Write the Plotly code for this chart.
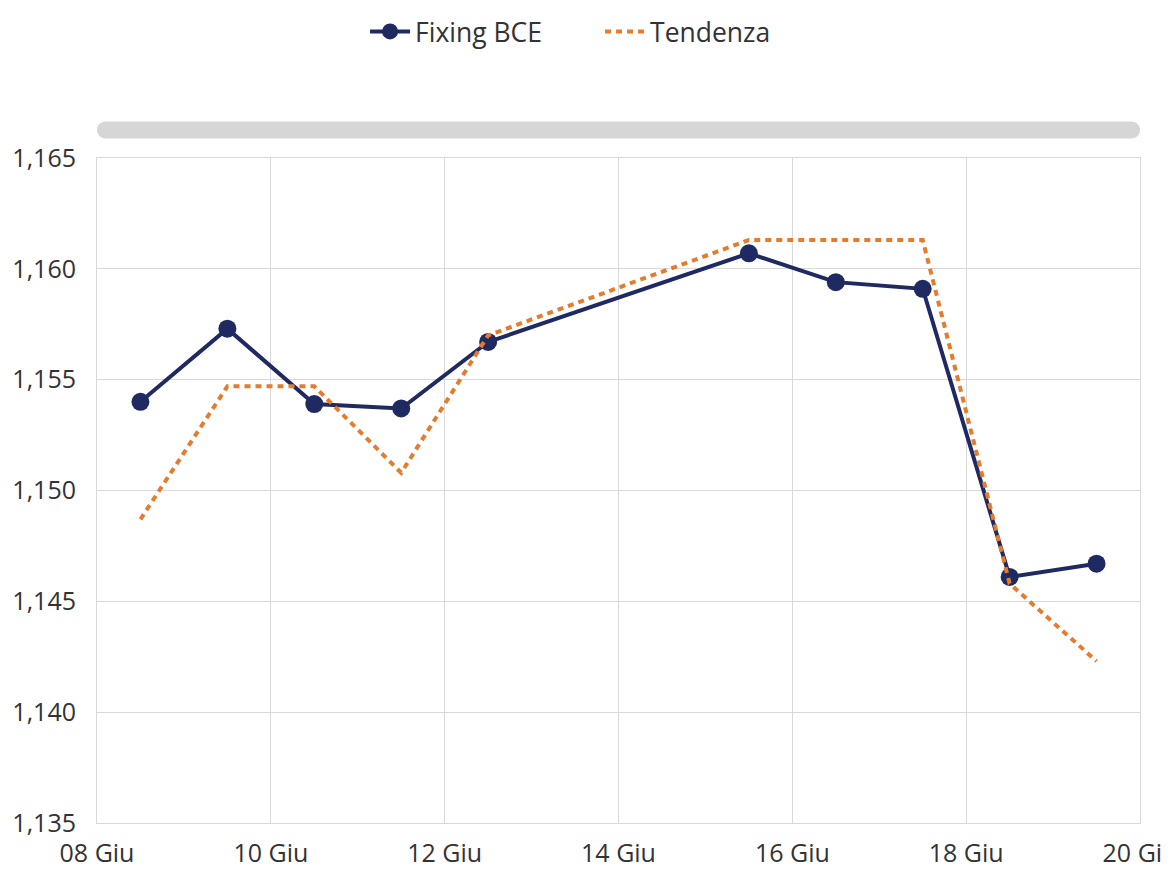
import plotly.graph_objects as go

# Data
dates = ["2025-06-08 12:00", "2025-06-09 12:00", "2025-06-10 12:00", "2025-06-11 12:00",
         "2025-06-12 12:00", "2025-06-15 12:00", "2025-06-16 12:00", "2025-06-17 12:00",
         "2025-06-18 12:00", "2025-06-19 12:00"]
fixing_bce = [1.1540, 1.1573, 1.1539, 1.1537, 1.1567, 1.1607, 1.1594, 1.1591, 1.1461, 1.1467]
tendenza = [1.1487, 1.1547, 1.1547, 1.1508, 1.1570, 1.1613, 1.1613, 1.1613, 1.1458, 1.1423]

tick_vals = ["2025-06-08", "2025-06-10", "2025-06-12", "2025-06-14",
             "2025-06-16", "2025-06-18", "2025-06-20"]
tick_text = ["08 Giu", "10 Giu", "12 Giu", "14 Giu", "16 Giu", "18 Giu", "20 Giu"]

NAVY = "#1F2A62"
ORANGE = "#E57B2C"
GRID = "#D9D9D9"
FONT = "Open Sans"

fig = go.Figure()
fig.add_trace(go.Scatter(
    x=dates, y=fixing_bce, name="Fixing BCE", mode="lines+markers",
    line=dict(color=NAVY, width=4),
    marker=dict(color=NAVY, size=18),
))
fig.add_trace(go.Scatter(
    x=dates, y=tendenza, name="Tendenza", mode="lines",
    line=dict(color=ORANGE, width=4, dash="6px,5px"),
))

# Rounded grey bar above plot
W, H = 1043.0, 665.0
r_px = 8.5
x0, x1 = 0.0, 1.0
ytop = 36.5 / H + 1.0
ybot = 19.5 / H + 1.0
ymid = (ytop + ybot) / 2
rx = r_px / W
k = 0.5523
ry = (ytop - ybot) / 2
path = (
    f"M {x0+rx},{ytop} L {x1-rx},{ytop} "
    f"C {x1-rx+k*rx},{ytop} {x1},{ymid+k*ry} {x1},{ymid} "
    f"C {x1},{ymid-k*ry} {x1-rx+k*rx},{ybot} {x1-rx},{ybot} "
    f"L {x0+rx},{ybot} "
    f"C {x0+rx-k*rx},{ybot} {x0},{ymid-k*ry} {x0},{ymid} "
    f"C {x0},{ymid+k*ry} {x0+rx-k*rx},{ytop} {x0+rx},{ytop} Z"
)
fig.add_shape(type="path", path=path, xref="paper", yref="paper",
              fillcolor="#D6D6D6", line=dict(width=0), layer="above")

fig.update_layout(
    width=1161, height=864,
    margin=dict(l=89, r=29, t=150, b=49, autoexpand=False),
    paper_bgcolor="white", plot_bgcolor="white",
    separators=",.",
    font=dict(family=FONT, size=25, color="#333333"),
    showlegend=True,
    legend=dict(orientation="h", x=0.257, xanchor="left", y=1.19, yanchor="middle",
                font=dict(size=26.5, color="#333333"), itemwidth=40,
                traceorder="normal", entrywidth=180, entrywidthmode="pixels"),
)
fig.update_xaxes(
    type="date", range=["2025-06-08", "2025-06-20"],
    tickvals=tick_vals, ticktext=tick_text,
    showgrid=True, gridcolor=GRID, gridwidth=1,
    showline=True, linecolor=GRID, mirror=True, automargin=False,
    ticks="", ticklabelstandoff=8, ticklabeloverflow="allow",
    tickfont=dict(size=25, color="#333333"), zeroline=False,
)
fig.update_yaxes(
    range=[1.135, 1.165], dtick=0.005, tick0=1.135, tickformat=".3f",
    showgrid=True, gridcolor=GRID, gridwidth=1,
    showline=True, linecolor=GRID, mirror=True, automargin=False,
    ticks="", ticklabelstandoff=15,
    tickfont=dict(size=25, color="#333333"), zeroline=False,
)

fig.write_html("out.html")
